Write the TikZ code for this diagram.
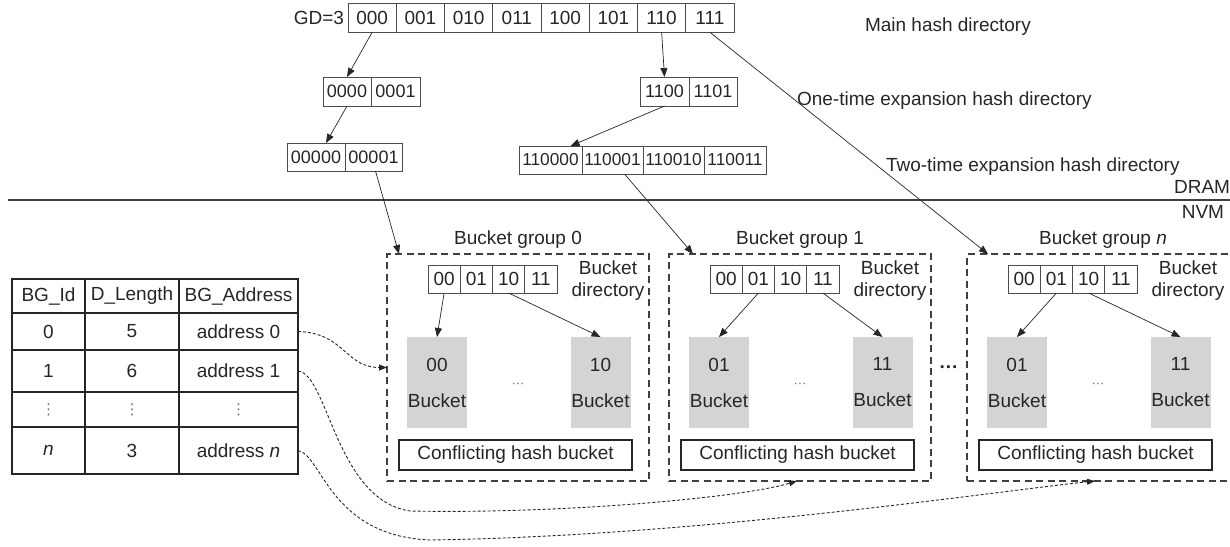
\documentclass[tikz,border=0pt]{standalone}
\usepackage{fontspec}
\setmainfont{Liberation Sans}
\newfontfamily\djv{DejaVu Sans}
\usetikzlibrary{arrows.meta}
\definecolor{bucketgray}{RGB}{212,212,212}
\begin{document}
\begin{tikzpicture}[x=1pt,y=-1pt,
 every node/.style={font=\fontsize{19}{22}\selectfont, text=black!85, inner sep=0pt, outer sep=0pt},
 cell/.style={draw=black!70, line width=0.8pt, minimum height=28pt},
 tcell/.style={draw=black!85, line width=1.1pt},
 grp/.style={draw=black!75, line width=1.1pt, dash pattern=on 7pt off 4.5pt, minimum height=227pt},
 bkt/.style={fill=bucketgray, minimum width=60pt, minimum height=91pt, align=center, font=\fontsize{19}{36}\selectfont},
 conf/.style={draw=black!85, line width=1.4pt, minimum width=233pt, minimum height=30pt},
 arr/.style={draw=black!85, line width=0.7pt, -{Triangle[length=9pt,width=7pt]}},
 darr/.style={draw=black!85, line width=0.9pt, dash pattern=on 3pt off 2pt, -{Triangle[length=8pt,width=6pt]}},
 lbl/.style={anchor=west},
]
\useasboundingbox (0,0) rectangle (1230,546);

% main hash directory
\foreach \lab [count=\i from 0] in {000,001,010,011,100,101,110,111}
  \node[cell, minimum width=48.25pt, minimum height=28.5pt] (m\i) at ({348+48.25*\i+24.125},18) {\lab};
\node[anchor=east] (gd) at (344,18) {GD=3};

% one-time expansion
\node[cell, minimum width=48pt, minimum height=29pt, font=\fontsize{18}{20}\selectfont] (e0) at (347,91.5) {0000};
\node[cell, minimum width=49pt, minimum height=29pt, font=\fontsize{18}{20}\selectfont] (e1) at (395.5,91.5) {0001};
\node[cell, minimum width=49pt, minimum height=29pt, font=\fontsize{18}{20}\selectfont] (g0) at (664.5,91.5) {1100};
\node[cell, minimum width=48pt, minimum height=29pt, font=\fontsize{18}{20}\selectfont] (g1) at (713,91.5) {1101};

% two-time expansion
\node[cell, minimum width=58pt, font=\fontsize{18}{20}\selectfont] (f0) at (316,157) {00000};
\node[cell, minimum width=57pt, font=\fontsize{18}{20}\selectfont] (f1) at (373.5,157) {00001};
\node[cell, minimum width=63pt, font=\fontsize{17.3}{20}\selectfont] (h0) at (550.5,160) {110000};
\node[cell, minimum width=61pt, font=\fontsize{17.3}{20}\selectfont] (h1) at (612.5,160) {110001};
\node[cell, minimum width=61pt, font=\fontsize{17.3}{20}\selectfont] (h2) at (673.5,160) {110010};
\node[cell, minimum width=62pt, font=\fontsize{17.3}{20}\selectfont] (h3) at (735,160) {110011};

% labels
\node[lbl] (lmain) at (865,27) {Main hash directory};
\node[lbl] (lone) at (797,101) {One-time expansion hash directory};
\node[lbl] (ltwo) at (886,167) {Two-time expansion hash directory};
\node[anchor=east] (dram) at (1230,187) {DRAM};
\node[anchor=east] (nvm) at (1224,212) {NVM};
\coordinate (dl) at (8,200);
\coordinate (dr) at (1232,200);
\draw[line width=2pt, black!75] (dl) -- (dr);

% bucket groups
\node[grp, minimum width=262pt] (b0) at (518,367.5) {};
\node[grp, minimum width=262pt] (b1) at (800,367.5) {};
\node[grp, minimum width=270pt] (bn) at (1102,367.5) {};
\node (lb0) at (518,240) {Bucket group 0};
\node (lb1) at (800,240) {Bucket group 1};
\node (lbn) at (1103,240) {Bucket group \textit{n}};

\foreach \ox/\g/\sa/\sb/\la/\lb in {387/0/0/2/00/10, 669/1/1/3/01/11, 967/n/1/2/01/11} {
  \foreach \c [count=\j from 0] in {00,01,10,11}
    \node[cell, minimum width=32.25pt] (d\g\j) at ({\ox+41+32.25*\j+16.125},279) {\c};
  \node[align=center] (bd\g) at ({\ox+221},281) {Bucket\\directory};
  \node[bkt] (ba\g) at ({\ox+50},382.5) {\la\\Bucket};
  \node[bkt] (bb\g) at ({\ox+213.5},382.5) {\lb\\Bucket};
  \node[font=\fontsize{13}{13}\selectfont, text=black!60] (dots\g) at ({\ox+131},385) {···};
  \node[conf] (cf\g) at ({\ox+128.5},455) {Conflicting hash bucket};
  \draw[arr] (d\g\sa.south) -- (ba\g.north);
  \draw[arr] (d\g\sb.south) -- (bb\g.north);
}
\node[font=\bfseries\fontsize{19}{19}\selectfont] (gdots) at (949,370) {···};

% directory arrows
\draw[arr] (m0.south) -- (e0.north);
\draw[arr] (e0.south) -- ([xshift=10pt]f0.north);
\draw[arr] (m6.south) -- (g0.north);
\draw[arr] (g0.south) -- ([xshift=20pt]h0.north);
\draw[arr] ([xshift=2pt]f1.south) -- ([xshift=12pt]b0.north west);
\draw[arr] ([xshift=12pt]h1.south) -- ([xshift=24pt]b1.north west);
\draw[arr] (m7.south) -- ([xshift=21pt]bn.north west);

% table
\foreach \r/\ya/\yb/\ca/\cb/\cc in {0/279/313/BG\_Id/D\_Length/BG\_Address,
   1/313/350/0/5/address 0, 2/350/392/1/6/address 1,
   3/392/427/{{\djv\fontsize{15}{15}\selectfont\textcolor{black!55}{⋮}}}/{{\djv\fontsize{15}{15}\selectfont\textcolor{black!55}{⋮}}}/{{\djv\fontsize{15}{15}\selectfont\textcolor{black!55}{⋮}}},
   4/427/474/\textit{n}/3/address \textit{n}} {
  \pgfmathsetmacro\ym{(\ya+\yb)/2}
  \pgfmathsetmacro\hh{\yb-\ya}
  \node[tcell, minimum width=73pt, minimum height=\hh pt] (t\r0) at (48.5,\ym) {\ca};
  \node[tcell, minimum width=94pt, minimum height=\hh pt] (t\r1) at (132,\ym) {\cb};
  \node[tcell, minimum width=119pt, minimum height=\hh pt] (t\r2) at (238.5,\ym) {\cc};
}

% dashed connectors
\draw[darr] (t12.east) .. controls (345,333) and (345,367.5) .. (b0.west);
\draw[darr] (t22.east) .. controls (328,374) and (336,500) .. (410,511)
   .. controls (560,514) and (740,498) .. ([xshift=-3pt]b1.south);
\draw[darr] (t42.east) .. controls (322,455) and (330,536) .. (430,540)
   .. controls (700,536) and (990,492) .. ([xshift=-7pt]bn.south);
\end{tikzpicture}
\end{document}
